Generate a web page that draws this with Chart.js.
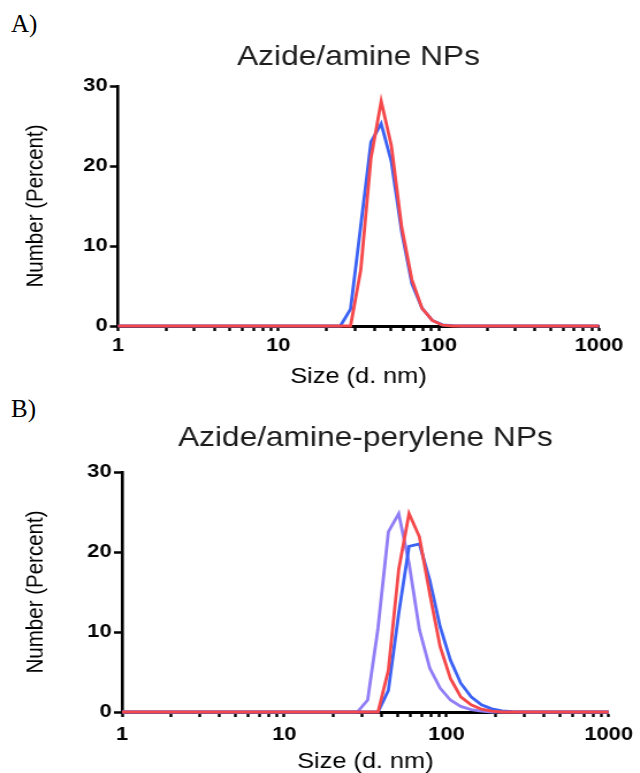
<!DOCTYPE html>
<html>
<head>
<meta charset="utf-8">
<script src="https://cdn.jsdelivr.net/npm/chart.js@4.4.0/dist/chart.umd.min.js"></script>
<style>
  html, body { margin: 0; padding: 0; background: #fff; overflow: hidden; width: 640px; height: 773px; }
  .panel-label { position: absolute; left: 11px; font-family: "Liberation Serif", "Times New Roman", serif; font-size: 25px; line-height: 25px; color: #000; }
  /* the original figure is stretched sideways, so the canvases are too */
  .stretch { position: absolute; left: 0; transform-origin: 0 0; transform: scaleX(1.151); }
</style>
</head>
<body>
<div class="panel-label" style="top:11px">A)</div>
<div class="panel-label" style="top:396px">B)</div>
<div class="stretch" style="top:0"><canvas id="chartA" width="556" height="395"></canvas></div>
<div class="stretch" style="top:393px"><canvas id="chartB" width="556" height="385"></canvas></div>
<script>
// tick marks on the log size axis, labels only on decades
const sizeTicks = [1, 2, 3, 4, 5, 6, 7, 8, 9, 10, 20, 30, 40, 50, 60, 70, 80, 90,
                   100, 200, 300, 400, 500, 600, 700, 800, 900, 1000];
const sizeLabels = [1, 10, 100, 1000];
const percentTicks = [0, 10, 20, 30];

// panel A - size bins (d. nm) and number %
const sizesA = [1, 24.36, 28.21, 32.67, 37.84, 43.82, 50.75, 58.77, 68.06, 78.82, 91.28, 105.7, 122.4, 141.8, 1000];
const blueA  = [0, 0,     2.1,   12.5,  23.0,  25.3,  20.5,  11.8,  5.3,   2.2,   0.7,   0.15,  0.05,  0,     0];
const redA   = [0, 0,     0,     7.0,   21.0,  28.1,  22.5,  12.4,  5.8,   2.2,   0.7,   0.1,   0,     0,     0];

// panel B
const sizesB  = [1, 28.21, 32.67, 37.84, 43.82, 50.75, 58.77, 68.06, 78.82, 91.28, 105.7, 122.4, 141.8, 164.2, 190.1, 220.2, 255.0, 295.3, 1000];
const redB    = [0, 0,     0,     0,     5.2,   17.8,  24.8,  21.9,  14.8,  8.2,   4.2,   1.9,   0.9,   0.35,  0.12,  0,     0,     0,     0];
const blueB   = [0, 0,     0,     0,     2.7,   12.3,  20.7,  21.0,  16.5,  10.7,  6.5,   3.6,   1.9,   0.9,   0.4,   0.15,  0.05,  0,     0];
const purpleB = [0, 0,     1.5,   10.5,  22.5,  24.8,  18.6,  10.3,  5.5,   3.0,   1.5,   0.7,   0.3,   0.1,   0,     0,     0,     0,     0];

const RED = '#f5484b';
const BLUE = '#3b62f4';
const PURPLE = '#907ef6';

Chart.defaults.font.family = '"Liberation Sans", Arial, sans-serif';

function series(xs, ys, color) {
    return {
        data: xs.map((x, i) => ({ x: x, y: ys[i] })),
        showLine: true,
        borderColor: color,
        backgroundColor: color,
        borderWidth: 2.8,
        pointRadius: 0,
        tension: 0,
        clip: false
    };
}

function makeChart(id, title, box, datasets) {
    return new Chart(document.getElementById(id), {
        type: 'scatter',
        data: { datasets: datasets },
        options: {
            responsive: false,
            animation: false,
            layout: { padding: { left: 0, right: box.right, top: 0, bottom: 0 } },
            plugins: {
                legend: { display: false },
                tooltip: { enabled: false },
                title: {
                    display: true,
                    text: title,
                    fullSize: false,
                    color: '#1c1c1c',
                    font: { size: 27.5, weight: 'normal' },
                    padding: box.titlePad
                }
            },
            scales: {
                x: {
                    type: 'logarithmic',
                    min: 1,
                    max: 1000,
                    afterBuildTicks: s => { s.ticks = sizeTicks.map(v => ({ value: v })); },
                    afterFit: s => { s.height = box.xHeight; },
                    ticks: {
                        autoSkip: false,
                        maxRotation: 0,
                        padding: box.xTickPad,
                        color: '#000',
                        font: { size: 19, weight: 'bold' },
                        callback: v => sizeLabels.includes(v) ? String(v) : ''
                    },
                    grid: { drawOnChartArea: false, tickLength: 5, tickWidth: 2.4, tickColor: '#000' },
                    border: { display: true, color: '#000', width: 3 },
                    title: {
                        display: true,
                        text: 'Size (d. nm)',
                        color: '#000',
                        font: { size: 22 },
                        padding: { top: 0, bottom: box.xTitlePad }
                    }
                },
                y: {
                    min: 0,
                    max: 30,
                    afterBuildTicks: s => { s.ticks = percentTicks.map(v => ({ value: v })); },
                    afterFit: s => { s.width = box.left; },
                    ticks: { padding: 2, color: '#000', font: { size: 19, weight: 'bold' } },
                    grid: { drawOnChartArea: false, tickLength: 7, tickWidth: 2.5, tickColor: '#000' },
                    border: { display: true, color: '#000', width: 2.6 },
                    title: {
                        display: true,
                        text: 'Number (Percent)',
                        color: '#000',
                        font: { size: 20.5 },
                        padding: { top: 18.6, bottom: 0 }
                    }
                }
            }
        }
    });
}

// first dataset is drawn on top
makeChart('chartA', 'Azide/amine NPs',
    { left: 102.5, right: 35.6, xHeight: 69, xTickPad: 3, xTitlePad: 4.8, titlePad: { top: 40.5, bottom: 12.5 } },
    [series(sizesA, redA, RED), series(sizesA, blueA, BLUE)]);

makeChart('chartB', 'Azide/amine-perylene NPs',
    { left: 106, right: 26, xHeight: 66, xTickPad: 6, xTitlePad: 2.8, titlePad: { top: 28.5, bottom: 17.5 } },
    [series(sizesB, redB, RED), series(sizesB, blueB, BLUE), series(sizesB, purpleB, PURPLE)]);
</script>
</body>
</html>
